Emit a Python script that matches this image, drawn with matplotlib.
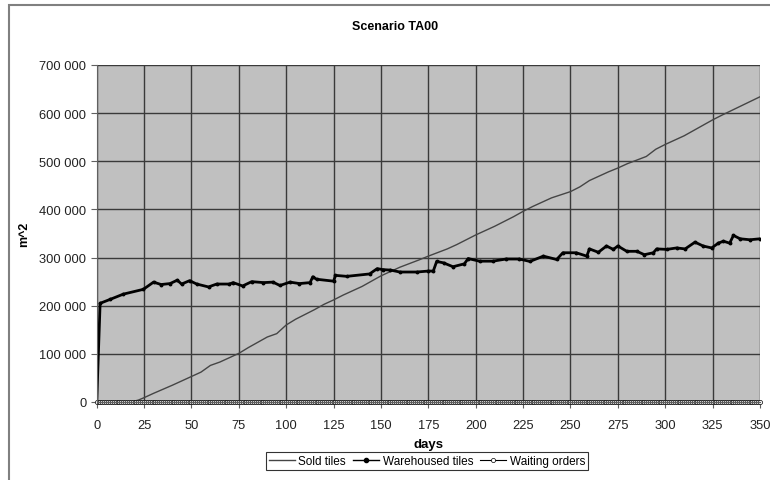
import numpy as np
import matplotlib
matplotlib.use("Agg")
import matplotlib.pyplot as plt
from matplotlib.patches import Rectangle
from matplotlib.ticker import FuncFormatter

plt.rcParams["font.family"] = ["Liberation Sans", "DejaVu Sans"]

# Sold tiles (cumulative m^2)
sold_days = [0, 18, 22, 25, 30, 40, 50, 55, 60, 65, 70, 75, 80, 90, 95, 100,
             105, 110, 115, 120, 125, 130, 140, 150, 160, 170, 175, 185, 190,
             200, 210, 220, 225, 230, 240, 250, 255, 260, 270, 275, 280, 290,
             295, 300, 310, 320, 325, 330, 340, 350]
sold_vals = [0, 0, 4000, 9000, 18000, 35000, 53000, 62000, 76000, 83000, 92000,
             101000, 113000, 135000, 142000, 160000, 172000, 182000, 192000,
             203000, 212000, 222000, 240000, 262000, 280000, 295000, 303000,
             318000, 327000, 347000, 365000, 385000, 396000, 406000, 424000,
             437000, 447000, 460000, 478000, 486000, 495000, 510000, 525000,
             535000, 553000, 575000, 586000, 596000, 615000, 634000]

# Warehoused tiles (m^2)
wh_days = [0, 1.8, 7, 14, 24.6, 30, 34, 38.7, 42.5, 44.8, 49, 52.8, 59, 63.3,
           70, 72, 77, 81.8, 88, 93, 96.7, 102, 107, 112.6, 114, 116, 125, 126,
           132, 144, 148, 151, 155, 160, 169, 175, 177.6, 179.4, 183, 188, 194,
           196, 202, 209, 216, 223, 228.6, 235.7, 242.7, 246, 253, 258.6, 260,
           264.7, 269, 272.6, 275, 279.7, 285, 289, 293.7, 295.5, 300.8, 306,
           310.5, 315.7, 320, 324.5, 328, 330.7, 334, 336, 339.5, 344.7, 350]
wh_vals = [0, 205000, 213000, 224000, 234000, 249000, 244000, 246000, 253000,
           245000, 252000, 245000, 239000, 245000, 245000, 248000, 241000,
           250000, 248000, 249000, 242000, 249000, 246000, 248000, 260000,
           255000, 251000, 263000, 261000, 266000, 277000, 275000, 274000,
           270000, 270000, 272000, 272000, 292000, 289000, 281000, 287000,
           298000, 292500, 292500, 297000, 297000, 292000, 303000, 296000,
           310000, 310000, 303000, 318000, 311000, 324000, 317000, 324000,
           313000, 313000, 306000, 310000, 318000, 317000, 320000, 318000,
           332000, 324000, 320000, 330000, 334000, 330000, 346000, 339000,
           337000, 339000]

# Waiting orders (m^2), stays at about zero every day
wait_days = list(range(0, 351))
wait_vals = [0] * len(wait_days)

x_ticks = list(range(0, 351, 25))
y_ticks = list(range(0, 700001, 100000))

fig = plt.figure(figsize=(7.7, 4.81), dpi=100)
ax = fig.add_axes([96.7 / 770, 1 - 403 / 481, (760 - 96.7) / 770, (403 - 66) / 481])
ax.set_facecolor("#c0c0c0")

ax.plot(sold_days, sold_vals, color="#454545", lw=1.0, label="Sold tiles")
ax.plot(wh_days, wh_vals, color="black", lw=2.0, marker="o", markersize=1.8,
        label="Warehoused tiles")
ax.plot(wait_days, wait_vals, color="black", lw=0.8, marker="o", markersize=3,
        markerfacecolor="white", markeredgewidth=0.5, label="Waiting orders",
        clip_on=False)

ax.set_xlim(0, 350)
ax.set_ylim(0, 700000)
ax.set_xticks(x_ticks)
ax.set_yticks(y_ticks)
ax.yaxis.set_major_formatter(FuncFormatter(lambda v, p: f"{int(v):,}".replace(",", " ")))
ax.grid(True, color="#3a3a3a", lw=1.0)
ax.set_axisbelow(True)
for s in ["top", "right"]:
    ax.spines[s].set_visible(False)
for s in ["left", "bottom"]:
    ax.spines[s].set_color("#606060")
ax.tick_params(axis="both", labelsize=9.3, colors="#606060", labelcolor="#222222",
               direction="out", length=4)
ax.tick_params(axis="x", pad=8)

ax.set_xlabel("days", fontsize=9.5, fontweight="bold", labelpad=5)
ax.set_ylabel("m^2", fontsize=9, fontweight="bold")
ax.yaxis.set_label_coords(-0.1, 0.5)

fig.text(395 / 770, 1 - 27 / 481, "Scenario TA00", fontsize=9, fontweight="bold",
         ha="center", va="center")

leg = ax.legend(loc="center", bbox_to_anchor=(427 / 770, 1 - 462 / 481),
                bbox_transform=fig.transFigure, ncol=3, fontsize=8.5,
                frameon=True, fancybox=False, handlelength=2.2, handletextpad=0.3,
                columnspacing=0.6, borderpad=0.25, borderaxespad=0)
leg.get_frame().set_edgecolor("black")
leg.get_frame().set_linewidth(0.8)
leg.legend_handles[1].set_linewidth(1.0)
leg.legend_handles[1].set_markersize(3)

fig.patches.append(Rectangle((9 / 770, -0.05), 1.0, 1 - 6 / 481 + 0.05,
                             transform=fig.transFigure, fill=False,
                             edgecolor="#808080", lw=1.5))

fig.savefig("out.png", dpi=100)
